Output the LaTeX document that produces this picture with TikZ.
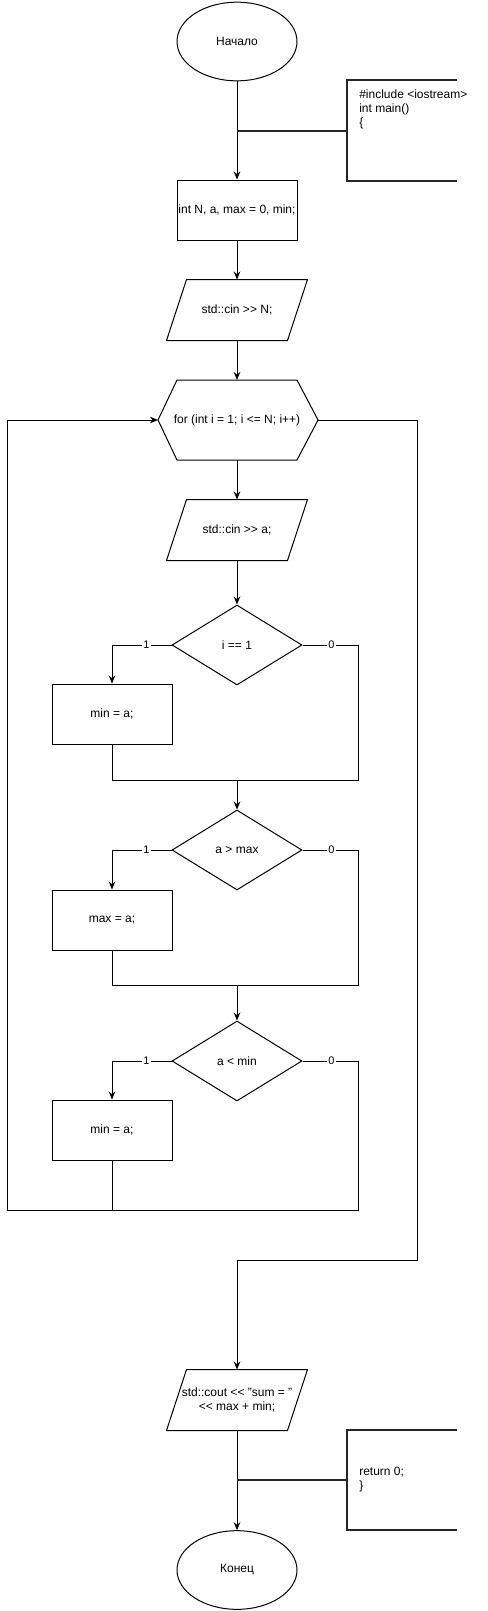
\documentclass[tikz,border=0pt]{standalone}
\usepackage{fontspec}
\setmainfont{Liberation Sans}
\usetikzlibrary{shapes.geometric,arrows.meta}

\tikzset{
  base/.style={draw, line width=0.75pt, inner sep=0pt, align=center,
    font=\fontsize{9}{10.8}\selectfont},
  term/.style={base, ellipse, minimum width=90pt, minimum height=59pt},
  proc/.style={base, rectangle, minimum width=90pt, minimum height=45pt},
  io/.style={base, draw=none, rectangle, minimum width=90pt, minimum height=45pt},
  cond/.style={base, diamond, minimum width=97.5pt, minimum height=60pt},
  flow/.style={line width=0.75pt, -{Stealth[length=6pt,width=5pt]}},
  link/.style={line width=0.75pt},
  lbl/.style={fill=white, inner sep=1pt, font=\fontsize{8.25}{9}\selectfont},
  note/.style={inner sep=0pt, minimum width=82.5pt, minimum height=75pt},
  notetext/.style={anchor=north west, align=left, inner sep=0pt,
    font=\fontsize{9}{10.2}\selectfont},
  bracket/.style={line width=1.5pt, draw=black!85}
}
% slanted frame round an io node
\newcommand{\ioframe}[1]{%
  \draw[link] ([xshift=-7.5pt]#1.south west) -- ([xshift=7.5pt]#1.north west)
    -- ([xshift=7.5pt]#1.north east) -- ([xshift=-7.5pt]#1.south east) -- cycle;}

\begin{document}
\begin{tikzpicture}[x=0.75pt,y=-0.75pt]
  \useasboundingbox (0,0) rectangle (488,1611);

  % main column
  \node[term] (start) at (237,41.5) {Начало};
  \node[proc] (decl) at (237,210) {int N, a, max = 0, min;};
  \node[io] (inN) at (237,310) {std::cin >{}> N;};
  \ioframe{inN}
  \node[base, draw=none] (loop) at (237,420) {for (int i = 1; i <= N; i++)};
  \draw[link] (loop.center) ++(-60,-40) coordinate (loopNW)
    -- ++(120,0) coordinate (loopNE) -- ++(21,40) coordinate (loopR)
    -- ++(-21,40) coordinate (loopSE) -- ++(-120,0) coordinate (loopSW)
    -- ++(-19,-40) coordinate (loopL) -- cycle;
  \node[io] (inA) at (237,530) {std::cin >{}> a;};
  \ioframe{inA}

  \node[cond] (c1) at (237,645) {i == 1};
  \node[proc] (b1) at (112,714) {min = a;};
  \node[cond] (c2) at (237,850) {a > max};
  \node[proc] (b2) at (112,920) {max = a;};
  \node[cond] (c3) at (237,1061) {a < min};
  \node[proc] (b3) at (112,1130) {min = a;};

  \node[io] (out) at (237,1400) {std::cout <{}< "sum = "\\<{}< max + min;};
  \ioframe{out}
  \node[term] (end) at (237,1570) {Конец};

  % helper points
  \coordinate (rcol) at (358,0);
  \coordinate (xcol) at (417,0);
  \coordinate (m1) at (237,780);
  \coordinate (m2) at (237,985);
  \coordinate (bot) at (7,1210);
  \coordinate (turn) at (237,1260);

  % comments
  \node[note] (cm1) at (402,130.5) {};
  \draw[bracket] (cm1.north east) -- (cm1.north west) -- (cm1.south west) -- (cm1.south east);
  \node[notetext] (cm1txt) at (359,90) {\#include <iostream>\\int main()\\\{};
  \node[note] (cm2) at (402,1480) {};
  \draw[bracket] (cm2.north east) -- (cm2.north west) -- (cm2.south west) -- (cm2.south east);
  \node[notetext] (cm2txt) at (359,1467) {return 0;\\\}};

  % connectors
  \draw[flow] (start) -- (decl);
  \draw[bracket] (cm1.west) -- (cm1.west -| start);
  \draw[flow] (decl) -- (inN);
  \draw[flow] (inN) -- (loopNW -| loop);
  \draw[flow] (loopSW -| loop) -- (inA);
  \draw[flow] (inA) -- (c1);

  \draw[flow] (c1.west) -- node[lbl, pos=0.42]{1} (c1.west -| b1) -- (b1.north);
  \draw[link] (c1.east) -- node[lbl, pos=0.52]{0} (c1.east -| rcol) |- (m1);
  \draw[link] (b1.south) |- (m1);
  \draw[flow] (m1) -- (c2);

  \draw[flow] (c2.west) -- node[lbl, pos=0.42]{1} (c2.west -| b2) -- (b2.north);
  \draw[link] (c2.east) -- node[lbl, pos=0.52]{0} (c2.east -| rcol) |- (m2);
  \draw[link] (b2.south) |- (m2);
  \draw[flow] (m2) -- (c3);

  \draw[flow] (c3.west) -- node[lbl, pos=0.42]{1} (c3.west -| b3) -- (b3.north);
  \draw[link] (b3.south) -- (b3.south |- bot);
  \draw[flow] (c3.east) -- node[lbl, pos=0.52]{0} (c3.east -| rcol) |- (bot) |- (loopL);

  \draw[flow] (loopR) -| (turn -| xcol) -- (turn) -- (out);
  \draw[flow] (out) -- (end);
  \draw[bracket] (cm2.west) -- (cm2.west -| end);
\end{tikzpicture}
\end{document}
